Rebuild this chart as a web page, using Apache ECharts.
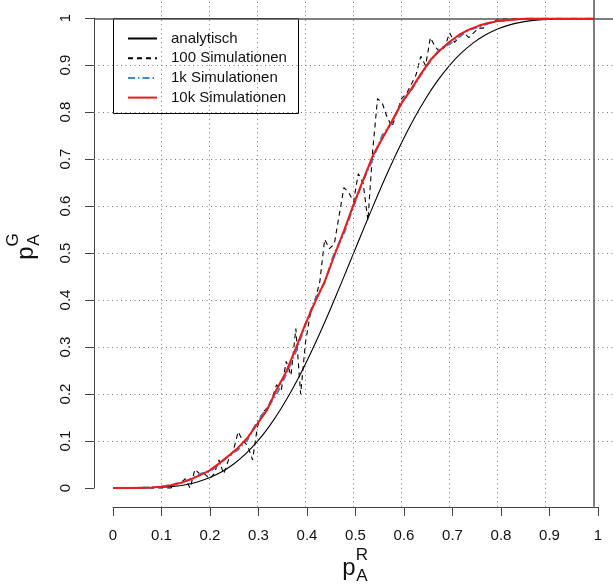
<!DOCTYPE html>
<html><head><meta charset="utf-8">
<script src="https://cdn.jsdelivr.net/npm/echarts@6/dist/echarts.min.js"></script>
<style>html,body{margin:0;padding:0;background:#fff}#c{width:613px;height:587px}</style>
</head><body><div id="c"></div>
<script>
// ---- data ----
const tickValues = [0,0.1,0.2,0.3,0.4,0.5,0.6,0.7,0.8,0.9,1];
const tickLabels = ['0','0.1','0.2','0.3','0.4','0.5','0.6','0.7','0.8','0.9','1'];
const gridPositions = [0.1,0.2,0.3,0.4,0.5,0.6,0.7,0.8,0.9];
const refLines = [1];

const analyticX = [0,0.025,0.05,0.075,0.1,0.125,0.15,0.175,0.2,0.225,0.25,0.275,0.3,0.325,0.35,0.375,0.4,0.425,0.45,0.475,0.5,0.525,0.55,0.575,0.6,0.625,0.65,0.675,0.7,0.725,0.75,0.775,0.8,0.825,0.85,0.875,0.9,0.925,0.95,0.975,1];
const analyticY = [0,0.00001,0.0001,0.00046,0.0015,0.0035,0.0071,0.013,0.0218,0.0341,0.0508,0.0723,0.0992,0.1319,0.1704,0.2146,0.2643,0.3186,0.3768,0.4377,0.5,0.5623,0.6232,0.6814,0.7357,0.7854,0.8296,0.8682,0.9008,0.9277,0.9492,0.9659,0.9782,0.987,0.9929,0.9965,0.9985,0.9995,0.9999,1,1];

const simX50 = [0,0.02,0.04,0.06,0.08,0.1,0.12,0.14,0.16,0.18,0.2,0.22,0.24,0.26,0.28,0.3,0.32,0.34,0.36,0.38,0.4,0.42,0.44,0.46,0.48,0.5,0.52,0.54,0.56,0.58,0.6,0.62,0.64,0.66,0.68,0.7,0.72,0.74,0.76,0.78,0.8,0.82,0.84,0.86,0.88,0.9,0.92,0.94,0.96,0.98,1];
const sim10k = [0,0,0,0.0005,0.001,0.003,0.006,0.011,0.018,0.027,0.037,0.052,0.069,0.086,0.108,0.137,0.166,0.21,0.248,0.298,0.35,0.396,0.44,0.495,0.548,0.604,0.656,0.708,0.745,0.782,0.82,0.85,0.882,0.912,0.933,0.951,0.966,0.977,0.985,0.991,0.995,0.997,0.999,1,1,1,1,1,1,1,1];
const sim1k = [0,0,0,0.0005,0.001,0.003,0.006,0.01,0.019,0.03,0.035,0.05,0.068,0.082,0.104,0.142,0.17,0.2,0.242,0.29,0.348,0.402,0.438,0.5,0.542,0.6,0.655,0.7,0.752,0.778,0.822,0.848,0.88,0.91,0.936,0.946,0.962,0.976,0.982,0.99,0.995,0.997,0.999,1,1,1,1,1,1,1,1];

const simX100 = [0,0.01,0.02,0.03,0.04,0.05,0.06,0.07,0.08,0.09,0.1,0.11,0.12,0.13,0.14,0.15,0.16,0.17,0.18,0.19,0.2,0.21,0.22,0.23,0.24,0.25,0.26,0.27,0.28,0.29,0.3,0.31,0.32,0.33,0.34,0.35,0.36,0.37,0.38,0.39,0.4,0.41,0.42,0.43,0.44,0.45,0.46,0.47,0.48,0.49,0.5,0.51,0.52,0.53,0.54,0.55,0.56,0.57,0.58,0.59,0.6,0.61,0.62,0.63,0.64,0.65,0.66,0.67,0.68,0.69,0.7,0.71,0.72,0.73,0.74,0.75,0.76,0.77,0.78,0.79,0.8,0.81,0.82,0.83,0.84,0.85,0.86,0.87,0.88,0.89,0.9,0.91,0.92,0.93,0.94,0.95,0.96,0.97,0.98,0.99,1];
const sim100 = [0,0,0,0,0,0,0,0,0,0,0,0,0,0.01,0.01,0.02,0,0.04,0.03,0.03,0.02,0.03,0.06,0.03,0.06,0.08,0.12,0.1,0.09,0.06,0.13,0.16,0.17,0.19,0.22,0.21,0.27,0.24,0.34,0.2,0.31,0.37,0.4,0.44,0.53,0.51,0.52,0.58,0.64,0.63,0.61,0.67,0.65,0.57,0.72,0.83,0.82,0.79,0.77,0.8,0.83,0.84,0.86,0.88,0.92,0.9,0.96,0.94,0.93,0.94,0.97,0.95,0.96,0.97,0.96,0.97,0.98,0.98,0.99,0.99,1,1,1,1,1,1,1,1,1,1,1,1,1,1,1,1,1,1,1,1,1];

const seriesNames = ['analytisch','100 Simulationen','1k Simulationen','10k Simulationen'];
// ---- build ----
const zip = (xs, ys) => xs.map((x, i) => [x, ys[i]]);
const FONT = 'Liberation Sans, Arial, sans-serif';
const chart = echarts.init(document.getElementById('c'), null, {renderer:'canvas'});
const hiddenAxis = {show:false, type:'value', min:-0.04, max:1.04};
const visAxisCommon = {
  type:'value', min:0, max:1, interval:0.1, offset:19,
  axisLine:{show:true, onZero:false, lineStyle:{color:'#444', width:1}},
  axisTick:{show:true, length:9, inside:false, lineStyle:{color:'#444', width:1}},
  splitLine:{show:false},
  axisLabel:{color:'#111', fontSize:15, fontFamily:FONT, margin:21,
    formatter:(v)=>{const i=tickValues.findIndex(t=>Math.abs(t-v)<1e-9);return i>=0?tickLabels[i]:'';}}
};
function subsupTitle(x, y, rot, sup, sub){
  return {type:'group', x:x, y:y, rotation:rot, children:[
    {type:'text', style:{text:'p', x:0, y:0, font:'24px '+FONT, fill:'#111', align:'center', verticalAlign:'middle'}},
    {type:'text', style:{text:sup, x:13, y:-13, font:'17px '+FONT, fill:'#111', align:'center', verticalAlign:'middle'}},
    {type:'text', style:{text:sub, x:13, y:8, font:'17px '+FONT, fill:'#111', align:'center', verticalAlign:'middle'}}
  ]};
}
const option = {
  animation:false,
  backgroundColor:'#fff',
  grid:[
    {left:94, top:-0.8, width:523.8, height:507.6},
    {left:113, top:18, width:485, height:470}
  ],
  xAxis:[
    Object.assign({gridIndex:0}, hiddenAxis),
    Object.assign({gridIndex:1, position:'bottom'}, visAxisCommon)
  ],
  yAxis:[
    Object.assign({gridIndex:0}, hiddenAxis),
    Object.assign({gridIndex:1, position:'left'}, visAxisCommon, {axisLabel:Object.assign({}, visAxisCommon.axisLabel, {rotate:90, margin:21})})
  ],
  legend:{
    show:true, orient:'vertical', left:127, top:31, padding:0, z:10,
    itemWidth:29, itemHeight:14, itemGap:4.7,
    itemStyle:{opacity:0, borderWidth:0},
    textStyle:{fontSize:15, fontFamily:FONT, color:'#111', lineHeight:15, padding:[0,0,0,9]},
    data:seriesNames
  },
  graphic:[
    {type:'rect', z:5, shape:{x:113.5, y:18.5, width:185, height:95}, style:{fill:'#fff', stroke:'#000', lineWidth:1}},
    subsupTitle(349, 568, 0, 'R', 'A'),
    subsupTitle(26, 253, Math.PI/2, 'G', 'A')
  ],
  series:[
    {type:'line', name:'gridlines', xAxisIndex:0, yAxisIndex:0, data:[[0,-1]], symbol:'none', silent:true, z:1,
     lineStyle:{width:0},
     markLine:{silent:true, symbol:'none', label:{show:false},
       lineStyle:{type:[1,3.5], color:'#777', width:1},
       data:[...gridPositions.map(v=>({xAxis:v})), ...gridPositions.map(v=>({yAxis:v}))]}},
    {type:'line', name:'reflines', xAxisIndex:0, yAxisIndex:0, data:[[0,-1]], symbol:'none', silent:true, z:1,
     lineStyle:{width:0},
     markLine:{silent:true, symbol:'none', label:{show:false},
       lineStyle:{type:'solid', color:'#555', width:1.5},
       data:[...refLines.map(v=>({xAxis:v})), ...refLines.map(v=>({yAxis:v}))]}},
    {type:'line', name:seriesNames[0], xAxisIndex:0, yAxisIndex:0, data:zip(analyticX, analyticY),
     symbol:'none', smooth:0.25, z:2, lineStyle:{color:'#000', width:1.1}, itemStyle:{color:'#000'}},
    {type:'line', name:seriesNames[1], xAxisIndex:0, yAxisIndex:0, data:zip(simX100, sim100),
     symbol:'none', z:3, lineStyle:{color:'#000', width:1.1, type:[5,4]}, itemStyle:{color:'#000'}},
    {type:'line', name:seriesNames[2], xAxisIndex:0, yAxisIndex:0, data:zip(simX50, sim1k),
     symbol:'none', z:4, lineStyle:{color:'#3f88cf', width:2, type:[7,3,1.5,3]}, itemStyle:{color:'#3f88cf'}},
    {type:'line', name:seriesNames[3], xAxisIndex:0, yAxisIndex:0, data:zip(simX50, sim10k),
     symbol:'none', z:5, lineStyle:{color:'#f01818', width:2}, itemStyle:{color:'#f01818'}}
  ]
};
chart.setOption(option);
</script></body></html>
